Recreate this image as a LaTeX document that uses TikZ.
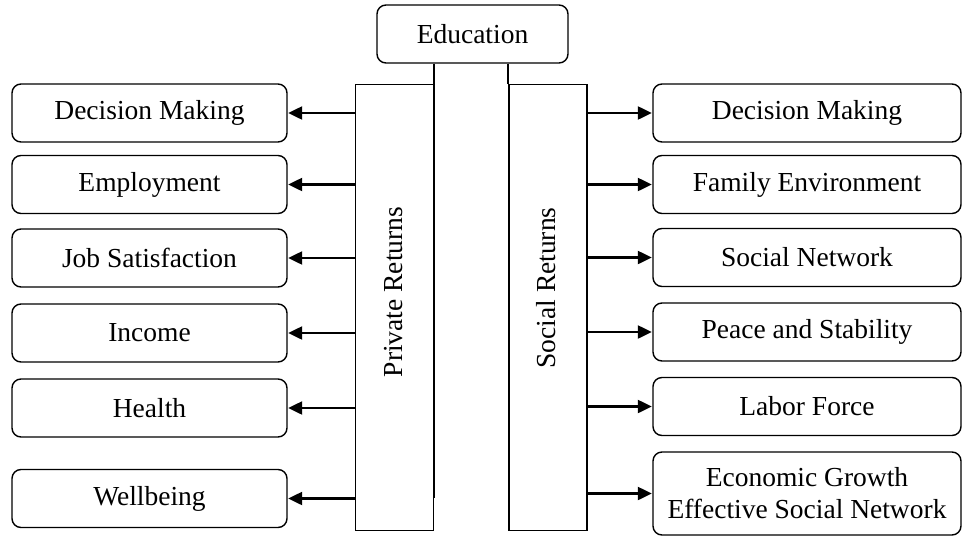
\documentclass[tikz,border=0pt]{standalone}
\usepackage{fontspec}
\setmainfont{Liberation Serif}
\usetikzlibrary{arrows.meta}
\begin{document}
\begin{tikzpicture}[x=1pt,y=1pt,
  lab/.style={font=\fontsize{27.5}{32}\selectfont},
  rbox/.style={draw, line width=1.4pt, rounded corners=9pt, inner sep=0pt, align=center, lab},
  lbox/.style={rbox, minimum width=275pt, minimum height=58pt},
  rrbox/.style={rbox, minimum width=308pt, minimum height=58pt},
  retbox/.style={draw, inner sep=0pt, minimum width=78pt, minimum height=446pt},
  arr/.style={line width=2.3pt, -{Triangle[length=14pt,width=13pt]}, shorten >=0.5pt},
  link/.style={line width=1.8pt}]
\useasboundingbox (0,0) rectangle (964,-536);
\fill[white] (0,0) rectangle (964,-536);
% top
\node[rbox, minimum width=191pt, minimum height=58pt] (edu) at (472.5,-34) {Education};
% return columns
\node[retbox, line width=1pt] (priv) at (394,-307) {};
\node[retbox, line width=1.4pt] (soc) at (548,-307.5) {};
\node[lab, rotate=90] (privt) at (394,-292) {Private Returns};
\node[lab, rotate=90] (soct) at (546,-288) {Social Returns};
\coordinate (pl) at (434,-498);
\draw[line width=2.6pt] (edu.south -| pl) -- (pl);
\draw[link] (edu.south -| soc.north west) -- (soc.north west);
% left boxes
\node[lbox] (l1) at (149.5,-113) {Decision Making};
\node[lbox] (l2) at (149.5,-184.5) {Employment};
\node[lbox] (l3) at (149.5,-258) {Job Satisfaction};
\node[lbox] (l4) at (149.5,-333) {Income};
\node[lbox] (l5) at (149.5,-408) {Health};
\node[lbox] (l6) at (149.5,-498.5) {Wellbeing};
% right boxes
\node[rrbox] (r1) at (807,-113) {Decision Making};
\node[rrbox] (r2) at (807,-184.5) {Family Environment};
\node[rrbox] (r3) at (807,-257.5) {Social Network};
\node[rrbox] (r4) at (807,-332) {Peace and Stability};
\node[rrbox] (r5) at (807,-406.5) {Labor Force};
\node[rbox, minimum width=308pt, minimum height=83pt] (r6) at (807,-493.5) {Economic Growth\\Effective Social Network};
% arrows
\foreach \b in {l1,l2,l3,l4,l5,l6}
  \draw[arr] (\b.east -| priv.west) -- (\b.east);
\foreach \b in {r1,r2,r3,r4,r5,r6}
  \draw[arr] (\b.west -| soc.east) -- (\b.west);
\end{tikzpicture}
\end{document}
